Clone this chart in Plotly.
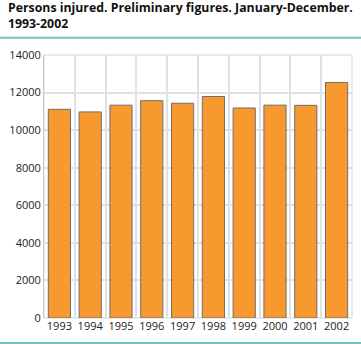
import plotly.graph_objects as go

years = ["1993", "1994", "1995", "1996", "1997", "1998", "1999", "2000", "2001", "2002"]
injured = [11110, 10970, 11330, 11570, 11430, 11790, 11180, 11330, 11320, 12540]
y_ticks = [0, 2000, 4000, 6000, 8000, 10000, 12000, 14000]

idx = list(range(len(years)))

fig = go.Figure()
fig.add_trace(go.Bar(
    x=idx, y=injured,
    marker=dict(color="#f7992f", line=dict(color="#6e6e6e", width=1)),
    width=0.72,
    hoverinfo="x+y",
))
# invisible trace on second axis for vertical category gridlines
fig.add_trace(go.Scatter(x=[-0.5, len(years) - 0.5], y=[0, 0], xaxis="x2",
                         mode="markers", marker=dict(opacity=0), showlegend=False, hoverinfo="skip"))

fig.update_layout(
    width=361, height=345,
    margin=dict(l=42, r=9, t=55, b=27),
    paper_bgcolor="white", plot_bgcolor="white",
    showlegend=False,
    font=dict(family="Open Sans, DejaVu Sans, sans-serif", color="#222222", size=11),
    xaxis=dict(
        range=[-0.5, len(years) - 0.5],
        tickvals=idx, ticktext=years,
        showgrid=False, zeroline=False,
        showline=False, ticks="",
        tickfont=dict(size=11, color="#222222"),
    ),
    xaxis2=dict(
        range=[-0.5, len(years) - 0.5], overlaying="x",
        tickmode="linear", tick0=-0.5, dtick=1,
        showgrid=True, gridcolor="#e1e1e1", gridwidth=2,
        showticklabels=False, zeroline=False, showline=False, ticks="",
    ),
    yaxis=dict(
        range=[0, 14000], tickvals=y_ticks, ticktext=[str(v) for v in y_ticks],
        showgrid=True, gridcolor="#e1e1e1", gridwidth=2,
        zeroline=False, showline=True, linecolor="#cccccc", linewidth=1,
        ticks="", tickfont=dict(size=11, color="#222222"),
    ),
    bargap=0.28,
    shapes=[
        dict(type="line", xref="paper", yref="paper", x0=-0.2, x1=1.1, y0=1.066, y1=1.066,
             line=dict(color="#6cc5c3", width=2)),
        dict(type="line", xref="paper", yref="paper", x0=-0.2, x1=1.1, y0=-0.095, y1=-0.095,
             line=dict(color="#6cc5c3", width=2)),
        dict(type="rect", xref="paper", yref="paper", x0=0, x1=1, y0=0, y1=1,
             line=dict(color="#d4d4d4", width=1), layer="below"),
    ],
    annotations=[
        dict(text="<b>Persons injured. Preliminary figures. January-December.<br>1993-2002</b>",
             xref="paper", yref="paper", x=-0.125, y=1.22, xanchor="left", yanchor="top",
             align="left", showarrow=False,
             font=dict(size=12.3, color="#111111", family="Open Sans, DejaVu Sans, sans-serif")),
    ],
)

fig.write_html("out.html")
